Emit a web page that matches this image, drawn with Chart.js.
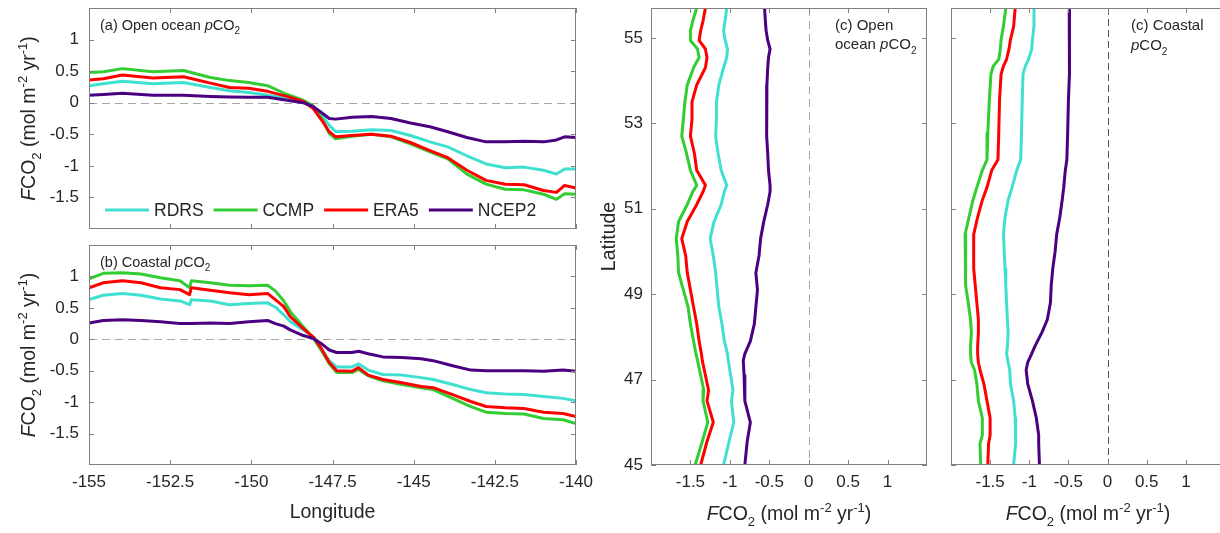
<!DOCTYPE html>
<html><head><meta charset="utf-8">
<script src="https://cdn.jsdelivr.net/npm/chart.js@4/dist/chart.umd.min.js"></script>
<style>
html,body{margin:0;padding:0;background:#fff;width:1220px;height:533px;overflow:hidden;position:relative}
canvas{position:absolute;left:0;top:0}
</style></head><body>
<canvas id="pa" width="1240" height="533"></canvas>
<canvas id="pb" width="1240" height="533"></canvas>
<canvas id="pc" width="1240" height="533"></canvas>
<canvas id="pd" width="1240" height="533"></canvas>
<script>
// ---------- data ----------
const seriesNames = ['RDRS', 'CCMP', 'ERA5', 'NCEP2'];
const seriesColors = ['#40E0D0', '#32CD32', '#FF0000', '#4B0082'];

const lonTicks = [-155, -152.5, -150, -147.5, -145, -142.5, -140];
const fluxTicksLR = [-1.5, -1, -0.5, 0, 0.5, 1];
const latTicks = [45, 47, 49, 51, 53, 55];

// (a) Open ocean pCO2, by longitude
const lonA = [-155, -154.56, -153.97, -153.03, -152.09, -151.26, -150.67, -150.08, -149.5, -148.9, -148.4, -148.1, -147.8, -147.6, -147.4, -146.9, -146.3, -145.7, -145.1, -144.5, -143.95, -143.36, -142.77, -142.18, -141.6, -141.0, -140.6, -140.35, -140];
const aRDRS = [0.27, 0.30, 0.34, 0.30, 0.32, 0.24, 0.19, 0.16, 0.12, 0.07, 0.00, -0.06, -0.22, -0.36, -0.46, -0.45, -0.43, -0.44, -0.52, -0.62, -0.70, -0.84, -0.97, -1.03, -1.02, -1.07, -1.13, -1.05, -1.05];
const aCCMP = [0.48, 0.49, 0.54, 0.49, 0.51, 0.40, 0.35, 0.32, 0.27, 0.13, 0.04, -0.05, -0.28, -0.49, -0.57, -0.53, -0.50, -0.54, -0.65, -0.78, -0.89, -1.13, -1.29, -1.37, -1.38, -1.45, -1.53, -1.44, -1.45];
const aERA5 = [0.36, 0.38, 0.44, 0.39, 0.41, 0.31, 0.24, 0.23, 0.18, 0.10, 0.02, -0.09, -0.30, -0.46, -0.54, -0.52, -0.50, -0.53, -0.63, -0.76, -0.87, -1.07, -1.23, -1.29, -1.30, -1.39, -1.42, -1.31, -1.35];
const aNCEP2 = [0.12, 0.13, 0.15, 0.12, 0.12, 0.10, 0.09, 0.085, 0.085, 0.04, 0.00, -0.06, -0.17, -0.25, -0.26, -0.23, -0.22, -0.25, -0.32, -0.38, -0.46, -0.55, -0.62, -0.62, -0.61, -0.62, -0.59, -0.54, -0.55];

// (b) Coastal pCO2, by longitude
const lonB = [-155, -154.56, -153.97, -153.4, -152.8, -152.2, -151.9, -151.85, -151.26, -150.67, -150.08, -149.5, -149.26, -149.0, -148.8, -148.4, -148.08, -147.84, -147.6, -147.37, -146.9, -146.7, -146.4, -145.95, -145.36, -144.77, -144.4, -143.8, -143.24, -142.77, -142.18, -141.6, -141.0, -140.4, -140];
const bRDRS = [0.63, 0.70, 0.73, 0.70, 0.64, 0.61, 0.55, 0.63, 0.61, 0.55, 0.57, 0.58, 0.51, 0.39, 0.28, 0.15, 0.03, -0.15, -0.34, -0.44, -0.44, -0.39, -0.49, -0.56, -0.57, -0.61, -0.64, -0.72, -0.80, -0.85, -0.87, -0.88, -0.91, -0.94, -0.98];
const bCCMP = [0.96, 1.05, 1.06, 1.04, 0.98, 0.93, 0.82, 0.93, 0.90, 0.86, 0.85, 0.86, 0.77, 0.61, 0.44, 0.20, 0.01, -0.18, -0.39, -0.53, -0.53, -0.48, -0.58, -0.66, -0.72, -0.77, -0.80, -0.94, -1.07, -1.16, -1.18, -1.19, -1.26, -1.28, -1.34];
const bERA5 = [0.82, 0.90, 0.93, 0.90, 0.82, 0.79, 0.71, 0.82, 0.78, 0.74, 0.71, 0.73, 0.63, 0.52, 0.36, 0.17, 0.03, -0.15, -0.37, -0.50, -0.51, -0.45, -0.57, -0.64, -0.69, -0.75, -0.77, -0.88, -0.99, -1.07, -1.09, -1.10, -1.16, -1.18, -1.23];
const bNCEP2 = [0.26, 0.30, 0.31, 0.30, 0.28, 0.25, 0.25, 0.25, 0.26, 0.25, 0.28, 0.30, 0.25, 0.21, 0.15, 0.06, 0.01, -0.07, -0.17, -0.21, -0.21, -0.19, -0.23, -0.28, -0.29, -0.31, -0.34, -0.42, -0.49, -0.50, -0.50, -0.50, -0.51, -0.49, -0.51];

// (c) Open ocean pCO2, by latitude
const latC = [55.7, 55.4, 55.17, 54.94, 54.74, 54.54, 54.3, 53.9, 53.5, 53.1, 52.7, 52.3, 51.9, 51.55, 51.4, 51.1, 50.7, 50.3, 49.9, 49.5, 49.1, 48.7, 48.3, 47.9, 47.6, 47.45, 47.1, 46.75, 46.5, 46.0, 45.55, 45.0];
const cRDRS = [-1.04, -1.06, -1.08, -1.06, -1.03, -1.04, -1.08, -1.14, -1.17, -1.17, -1.18, -1.15, -1.11, -1.04, -1.07, -1.11, -1.20, -1.25, -1.21, -1.18, -1.16, -1.14, -1.10, -1.07, -1.03, -1.02, -0.99, -0.96, -0.98, -0.95, -1.01, -1.08];
const cCCMP = [-1.42, -1.47, -1.50, -1.50, -1.41, -1.39, -1.46, -1.54, -1.57, -1.59, -1.61, -1.55, -1.50, -1.42, -1.47, -1.54, -1.65, -1.68, -1.66, -1.65, -1.59, -1.53, -1.50, -1.46, -1.43, -1.41, -1.37, -1.33, -1.34, -1.28, -1.35, -1.44];
const cERA5 = [-1.31, -1.34, -1.37, -1.39, -1.31, -1.29, -1.31, -1.42, -1.48, -1.48, -1.50, -1.45, -1.42, -1.31, -1.34, -1.42, -1.54, -1.61, -1.56, -1.54, -1.50, -1.46, -1.42, -1.39, -1.36, -1.35, -1.31, -1.27, -1.29, -1.21, -1.29, -1.37];
const cNCEP2 = [-0.56, -0.55, -0.54, -0.52, -0.49, -0.51, -0.52, -0.53, -0.54, -0.53, -0.53, -0.52, -0.51, -0.49, -0.49, -0.52, -0.57, -0.61, -0.63, -0.67, -0.65, -0.67, -0.69, -0.74, -0.81, -0.83, -0.82, -0.81, -0.81, -0.74, -0.78, -0.81];

// (c) Coastal pCO2, by latitude
const latD = [55.7, 55.27, 54.96, 54.73, 54.5, 54.34, 54.15, 53.55, 52.77, 52.15, 51.9, 51.5, 51.2, 50.8, 50.4, 50.0, 49.6, 49.2, 48.8, 48.4, 48.1, 47.77, 47.6, 47.4, 47.23, 46.9, 46.5, 46.1, 45.7, 45.5, 45.0];
const dRDRS = [-0.94, -0.94, -0.96, -0.97, -1.01, -1.05, -1.08, -1.09, -1.10, -1.11, -1.16, -1.22, -1.27, -1.31, -1.33, -1.32, -1.31, -1.30, -1.29, -1.28, -1.27, -1.28, -1.29, -1.27, -1.25, -1.24, -1.20, -1.18, -1.17, -1.18, -1.20];
const dCCMP = [-1.30, -1.33, -1.36, -1.37, -1.39, -1.46, -1.49, -1.51, -1.53, -1.54, -1.60, -1.67, -1.72, -1.77, -1.82, -1.82, -1.81, -1.81, -1.78, -1.75, -1.74, -1.75, -1.75, -1.74, -1.70, -1.67, -1.65, -1.60, -1.60, -1.63, -1.62];
const dERA5 = [-1.18, -1.20, -1.24, -1.26, -1.29, -1.33, -1.36, -1.38, -1.39, -1.40, -1.48, -1.54, -1.60, -1.66, -1.71, -1.71, -1.71, -1.69, -1.67, -1.65, -1.65, -1.66, -1.66, -1.65, -1.63, -1.58, -1.54, -1.50, -1.50, -1.52, -1.53];
const dNCEP2 = [-0.49, -0.48, -0.48, -0.49, -0.49, -0.49, -0.49, -0.50, -0.51, -0.52, -0.54, -0.56, -0.58, -0.61, -0.65, -0.67, -0.70, -0.72, -0.73, -0.77, -0.84, -0.93, -0.97, -1.02, -1.04, -1.02, -0.96, -0.91, -0.88, -0.88, -0.87];

// ---------- drawing helpers ----------
const FONT = '"Liberation Sans", Arial, Helvetica, sans-serif';
const TXT = '#262626';
const AXC = '#808080';
const W = 1240, H = 533, XH = 40;

function richDraw(ctx, parts, x, y, size, align, rot) {
  ctx.save();
  ctx.translate(x, y);
  if (rot) ctx.rotate(rot);
  const small = Math.round(size * 0.68);
  const fontFor = st => (st === 'i' ? 'italic ' : '') + ((st === 'sub' || st === 'sup') ? small : size) + 'px ' + FONT;
  let total = 0;
  for (const [t, st] of parts) { ctx.font = fontFor(st); total += ctx.measureText(t).width; }
  let cx = align === 'center' ? -total / 2 : 0;
  ctx.textBaseline = 'alphabetic'; ctx.textAlign = 'left'; ctx.fillStyle = TXT;
  for (const [t, st] of parts) {
    ctx.font = fontFor(st);
    const dy = st === 'sub' ? size * 0.3 : st === 'sup' ? -size * 0.42 : 0;
    ctx.fillText(t, cx, dy);
    cx += ctx.measureText(t).width;
  }
  ctx.restore();
}

const fluxTitle = [['F', 'i'], ['CO', ''], ['2', 'sub'], [' (mol m', ''], ['-2', 'sup'], [' yr', ''], ['-1', 'sup'], [')', '']];

function decoPlugin(p) {
  return {
    id: 'deco',
    beforeDatasetsDraw(chart) {
      const { ctx, chartArea: a, scales } = chart;
      ctx.save();
      ctx.strokeStyle = p.zeroColor; ctx.lineWidth = 1; ctx.setLineDash(p.zeroDash);
      ctx.beginPath();
      if (p.horizontal) {
        const y = Math.round(scales.y.getPixelForValue(0)) + 0.5;
        ctx.moveTo(a.left, y); ctx.lineTo(a.right, y);
      } else {
        const x = Math.round(scales.x.getPixelForValue(0)) + 0.5;
        ctx.moveTo(x, a.top); ctx.lineTo(x, a.bottom);
      }
      ctx.stroke();
      ctx.restore();
    },
    afterDatasetsDraw(chart) {
      const { ctx, chartArea: a, scales } = chart;
      ctx.save();
      ctx.strokeStyle = AXC; ctx.lineWidth = 1;
      ctx.strokeRect(Math.round(a.left) + 0.5, Math.round(a.top) + 0.5, Math.round(a.right - a.left) - 1, Math.round(a.bottom - a.top) - 1);
      const TL = 5;
      ctx.beginPath();
      scales.x.ticks.forEach(t => {
        const x = Math.round(scales.x.getPixelForValue(t.value)) + 0.5;
        ctx.moveTo(x, a.bottom); ctx.lineTo(x, a.bottom - TL);
        ctx.moveTo(x, a.top); ctx.lineTo(x, a.top + TL);
      });
      scales.y.ticks.forEach(t => {
        const y = Math.round(scales.y.getPixelForValue(t.value)) + 0.5;
        ctx.moveTo(a.left, y); ctx.lineTo(a.left + TL, y);
        ctx.moveTo(a.right, y); ctx.lineTo(a.right - TL, y);
      });
      ctx.stroke();
      ctx.restore();
      (p.texts || []).forEach(tx => richDraw(ctx, tx.parts, tx.x, tx.y, tx.size, tx.align, tx.rot));
      if (p.legend) {
        const L = p.legend;
        let x = L.x;
        ctx.save();
        ctx.font = L.size + 'px ' + FONT;
        ctx.textBaseline = 'middle'; ctx.textAlign = 'left';
        chart.data.datasets.forEach(ds => {
          ctx.strokeStyle = ds.borderColor; ctx.lineWidth = 3;
          ctx.beginPath(); ctx.moveTo(x, L.y); ctx.lineTo(x + L.len, L.y); ctx.stroke();
          x += L.len + 5;
          ctx.fillStyle = TXT;
          ctx.fillText(ds.label, x, L.y + 1);
          x += ctx.measureText(ds.label).width + 10;
        });
        ctx.restore();
      }
    }
  };
}

function makePanel(id, cfg) {
  const ar = cfg.area;
  const datasets = cfg.series.map((vals, i) => ({
    label: seriesNames[i],
    data: cfg.horizontal ? cfg.pos.map((p, k) => ({ x: p, y: vals[k] })) : cfg.pos.map((p, k) => ({ x: vals[k], y: p })),
    borderColor: seriesColors[i],
    backgroundColor: seriesColors[i],
    borderWidth: 3,
    pointRadius: 0,
    tension: 0,
    fill: false,
    order: 3 - i,
    borderJoinStyle: 'round',
    borderCapStyle: 'round'
  }));
  const zeroPad = s => { s.paddingLeft = 0; s.paddingRight = 0; s.paddingTop = 0; s.paddingBottom = 0; };
  const tickFont = { family: FONT, size: 17 };
  new Chart(document.getElementById(id), {
    type: 'line',
    data: { datasets },
    options: {
      responsive: false,
      animation: false,
      devicePixelRatio: 1,
      indexAxis: cfg.horizontal ? 'x' : 'y',
      layout: { padding: { left: cfg.padLeft, top: ar.t, right: W - ar.r, bottom: H - ar.b - XH } },
      plugins: { legend: { display: false }, tooltip: { enabled: false } },
      scales: {
        x: {
          type: 'linear', position: 'bottom', min: cfg.xMin, max: cfg.xMax, bounds: 'data',
          grid: { display: false, drawTicks: false }, border: { display: false },
          ticks: { display: cfg.xLabels, font: tickFont, color: TXT, padding: 7, maxRotation: 0, autoSkip: false, callback: v => String(v) },
          afterBuildTicks: s => { s.ticks = cfg.xTicks.map(v => ({ value: v })); },
          afterFit: s => { s.height = XH; zeroPad(s); }
        },
        y: {
          type: 'linear', position: 'left', min: cfg.yMin, max: cfg.yMax, bounds: 'data',
          grid: { display: false, drawTicks: false }, border: { display: false },
          ticks: { display: cfg.yLabels, font: tickFont, color: TXT, padding: cfg.yPad, autoSkip: false, callback: v => String(v) },
          afterBuildTicks: s => { s.ticks = cfg.yTicks.map(v => ({ value: v })); },
          afterFit: s => { s.width = ar.l - cfg.padLeft; zeroPad(s); }
        }
      }
    },
    plugins: [decoPlugin(cfg.deco)]
  });
}

// (a)
makePanel('pa', {
  area: { l: 89, t: 8, r: 576, b: 229 }, padLeft: 0, horizontal: true, yPad: 10,
  pos: lonA, series: [aRDRS, aCCMP, aERA5, aNCEP2],
  xMin: -155, xMax: -140, xTicks: lonTicks, xLabels: false,
  yMin: -2, yMax: 1.5, yTicks: fluxTicksLR, yLabels: true,
  deco: {
    horizontal: true, zeroColor: '#a6a6a6', zeroDash: [8, 5],
    legend: { x: 105, y: 210, len: 44, size: 17.5 },
    texts: [
      { parts: [['(a) Open ocean ', ''], ['p', 'i'], ['CO', ''], ['2', 'sub']], x: 100, y: 30, size: 14.5, align: 'left' },
      { parts: fluxTitle, x: 35, y: 118.5, size: 19.5, align: 'center', rot: -Math.PI / 2 }
    ]
  }
});
// (b)
makePanel('pb', {
  area: { l: 89, t: 245, r: 576, b: 465 }, padLeft: 0, horizontal: true, yPad: 10,
  pos: lonB, series: [bRDRS, bCCMP, bERA5, bNCEP2],
  xMin: -155, xMax: -140, xTicks: lonTicks, xLabels: true,
  yMin: -2, yMax: 1.5, yTicks: fluxTicksLR, yLabels: true,
  deco: {
    horizontal: true, zeroColor: '#a6a6a6', zeroDash: [8, 5],
    texts: [
      { parts: [['(b) Coastal ', ''], ['p', 'i'], ['CO', ''], ['2', 'sub']], x: 100, y: 267, size: 14.5, align: 'left' },
      { parts: fluxTitle, x: 35, y: 355, size: 19.5, align: 'center', rot: -Math.PI / 2 },
      { parts: [['Longitude', '']], x: 332.5, y: 518, size: 19.5, align: 'center' }
    ]
  }
});
// (c) open ocean by latitude
makePanel('pc', {
  area: { l: 651, t: 8, r: 927, b: 465 }, padLeft: 600, horizontal: false, yPad: 8,
  pos: latC, series: [cRDRS, cCCMP, cERA5, cNCEP2],
  xMin: -2, xMax: 1.5, xTicks: fluxTicksLR, xLabels: true,
  yMin: 45, yMax: 55.7, yTicks: latTicks, yLabels: true,
  deco: {
    horizontal: false, zeroColor: '#a6a6a6', zeroDash: [8, 5],
    texts: [
      { parts: [['(c) Open', '']], x: 835, y: 30, size: 15, align: 'left' },
      { parts: [['ocean ', ''], ['p', 'i'], ['CO', ''], ['2', 'sub']], x: 835, y: 49, size: 15, align: 'left' },
      { parts: [['Latitude', '']], x: 615, y: 236.5, size: 19.5, align: 'center', rot: -Math.PI / 2 },
      { parts: fluxTitle, x: 789, y: 520, size: 19.5, align: 'center' }
    ]
  }
});
// (c) coastal by latitude
makePanel('pd', {
  area: { l: 951, t: 8, r: 1225, b: 465 }, padLeft: 940, horizontal: false, yPad: 8,
  pos: latD, series: [dRDRS, dCCMP, dERA5, dNCEP2],
  xMin: -2, xMax: 1.5, xTicks: fluxTicksLR, xLabels: true,
  yMin: 45, yMax: 55.7, yTicks: latTicks, yLabels: false,
  deco: {
    horizontal: false, zeroColor: '#555555', zeroDash: [7, 4],
    texts: [
      { parts: [['(c) Coastal', '']], x: 1131, y: 30, size: 15, align: 'left' },
      { parts: [['p', 'i'], ['CO', ''], ['2', 'sub']], x: 1131, y: 50, size: 15, align: 'left' },
      { parts: fluxTitle, x: 1088, y: 520, size: 19.5, align: 'center' }
    ]
  }
});
</script>
</body></html>
